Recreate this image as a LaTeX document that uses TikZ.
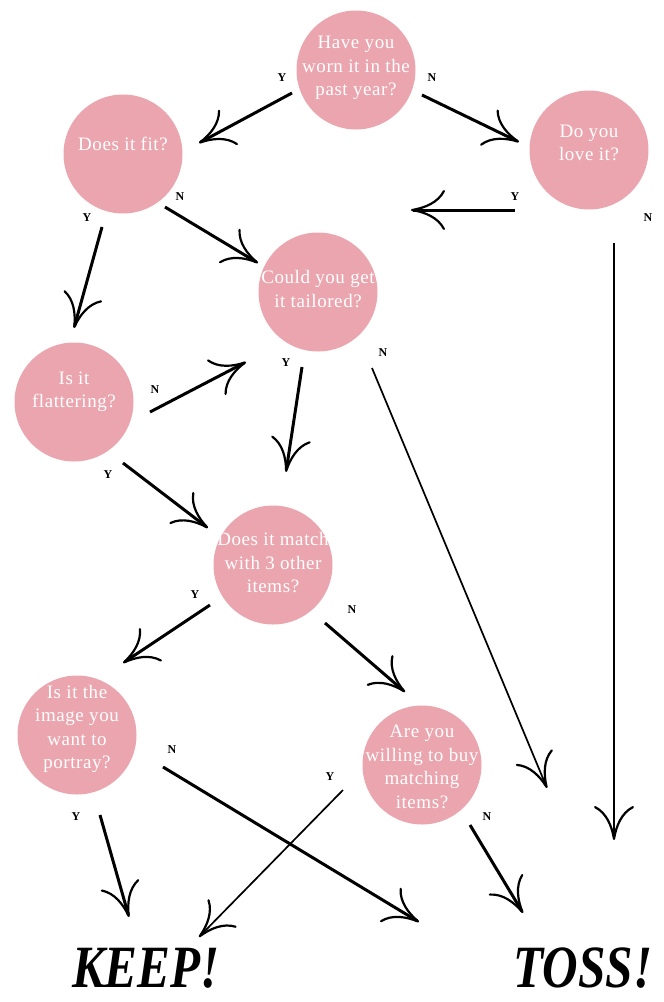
\documentclass[tikz,border=0pt]{standalone}
\usepackage{fontspec}
\setmainfont{Liberation Serif}
\usetikzlibrary{arrows.meta,calc}
\definecolor{pinkc}{RGB}{235,165,175}
\begin{document}
\begin{tikzpicture}[x=1pt,y=-1pt,
  q/.style={circle, fill=pinkc, minimum size=119pt, inner sep=0pt},
  qt/.style={text=white, align=center, inner sep=0pt, font=\fontsize{19}{23.5}\selectfont\addfontfeature{LetterSpace=3}},
  lab/.style={inner sep=0pt, font=\bfseries\fontsize{12}{12}\selectfont},
  big/.style={inner sep=0pt, font=\bfseries\itshape\fontsize{60}{60}\selectfont, xscale=0.82},
  tip/.style={-{Computer Modern Rightarrow[length=34pt,width=40pt,line width=2.2pt]}},
  arr/.style={tip, line width=3pt},
  thinarr/.style={tip, line width=1.7pt}]
\useasboundingbox (0,0) rectangle (664,1002);
\fill[white] (0,0) rectangle (664,1002);

% question circles
\node[q] (q1) at (356,70) {};
\node[qt] (q1t) at ($(q1)+(0,-2)$) {Have you\\worn it in the\\past year?};
\node[q] (fit) at (123,154) {};
\node[qt] (fitt) at ($(fit)+(0,-10)$) {Does it fit?};
\node[q] (love) at (589,150) {};
\node[qt] (lovet) at ($(love)+(0,-7)$) {Do you\\love it?};
\node[q] (tail) at (318,292) {};
\node[qt] (tailt) at ($(tail)+(0,-3)$) {Could you get\\it tailored?};
\node[q] (flat) at (74,402) {};
\node[qt] (flatt) at ($(flat)+(0,-10)$) {Is it\\flattering?};
\node[q] (match) at (273,565) {};
\node[qt] (matcht) at ($(match)+(0,-2)$) {Does it match\\with 3 other\\items?};
\node[q] (image) at (77,735) {};
\node[qt] (imaget) at ($(image)+(0,-6)$) {Is it the\\image you\\want to\\portray?};
\node[q] (willing) at (422,765) {};
\node[qt] (willingt) at ($(willing)+(0,2)$) {Are you\\willing to buy\\matching\\items?};

% outcomes
\node[big] (keep) at (146,968) {KEEP!};
\node[big] (toss) at (583,968) {TOSS!};

% free ends
\coordinate (loveY) at (411,210);
\coordinate (loveN) at (614,840);
\coordinate (tailN) at (547,788);
\coordinate (imageN) at (419,922);
\coordinate (willN) at (523,913);

% connectors
\draw[arr] ($(q1)+(-64,23)$) -- ($(fit)+(76,-11)$);
\draw[arr] ($(q1)+(66,25)$) -- ($(love)+(-70,-8)$);
\draw[arr] ($(love)+(-74,60)$) -- (loveY);
\draw[thinarr] ($(love)+(25,93)$) -- (loveN);
\draw[arr] ($(fit)+(42,53)$) -- ($(tail)+(-60,-29)$);
\draw[arr] ($(fit)+(-21,73)$) -- ($(flat)+(0,-74)$);
\draw[arr] ($(flat)+(76,10)$) -- ($(tail)+(-72,70)$);
\draw[arr] ($(tail)+(-16,75)$) -- ($(match)+(13,-93)$);
\draw[thinarr] ($(tail)+(54,76)$) -- (tailN);
\draw[arr] ($(flat)+(49,61)$) -- ($(match)+(-65,-37)$);
\draw[arr] ($(match)+(-63,40)$) -- ($(image)+(46,-72)$);
\draw[arr] ($(match)+(52,58)$) -- ($(willing)+(-17,-73)$);
\draw[arr] ($(image)+(86,32)$) -- (imageN);
\draw[arr] ($(image)+(23,80)$) -- ($(keep)+(-17,-51)$);
\draw[thinarr] ($(willing)+(-79,25)$) -- ($(keep)+(53,-31)$);
\draw[arr] ($(willing)+(48,60)$) -- (willN);

% Y/N labels
\node[lab] (l1) at (282,78) {Y};
\node[lab] (l2) at (432,78) {N};
\node[lab] (l3) at (515,197) {Y};
\node[lab] (l4) at (648,218) {N};
\node[lab] (l5) at (180,197) {N};
\node[lab] (l6) at (87,218) {Y};
\node[lab] (l7) at (155,390) {N};
\node[lab] (l8) at (108,475) {Y};
\node[lab] (l9) at (286,363) {Y};
\node[lab] (l10) at (383,353) {N};
\node[lab] (l11) at (195,595) {Y};
\node[lab] (l12) at (352,610) {N};
\node[lab] (l13) at (172,750) {N};
\node[lab] (l14) at (76,817) {Y};
\node[lab] (l15) at (330,777) {Y};
\node[lab] (l16) at (487,817) {N};
\end{tikzpicture}
\end{document}
